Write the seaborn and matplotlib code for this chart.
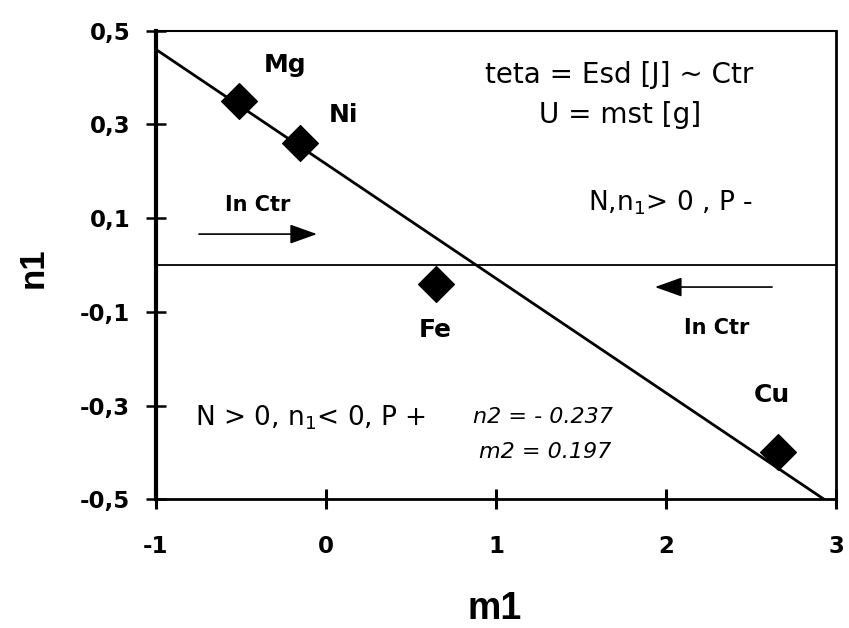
import matplotlib
matplotlib.use("Agg")
import matplotlib.pyplot as plt
import seaborn as sns
import pandas as pd

# Metal data points (m1, n1)
metals = ["Mg", "Ni", "Fe", "Cu"]
m1_values = [-0.51, -0.15, 0.65, 2.66]
n1_values = [0.35, 0.26, -0.04, -0.40]

# Straight trend line, end points (m1, n1)
trend_m1 = [-1.0, 2.93]
trend_n1 = [0.46, -0.50]

# Axis ticks and their comma-decimal labels
x_ticks = [-1, 0, 1, 2, 3]
x_tick_labels = ["-1", "0", "1", "2", "3"]
y_ticks = [0.5, 0.3, 0.1, -0.1, -0.3, -0.5]
y_tick_labels = ["0,5", "0,3", "0,1", "-0,1", "-0,3", "-0,5"]

# Annotation texts
header_lines = ["teta = Esd [J] ~ Ctr", "U = mst [g]"]
region_upper = r"N,n$_1$> 0 , P -"
region_lower = r"N > 0, n$_1$< 0, P +"
fit_lines = ["n2 = - 0.237", "m2 = 0.197"]
arrow_text = "In Ctr"

df = pd.DataFrame({"metal": metals, "m1": m1_values, "n1": n1_values})
trend = pd.DataFrame({"m1": trend_m1, "n1": trend_n1})

sns.set_theme(style="white")
plt.rcParams["font.family"] = ["DejaVu Sans"]
plt.rcParams["mathtext.fontset"] = "dejavusans"
plt.rcParams["text.color"] = "black"
plt.rcParams["axes.labelcolor"] = "black"
plt.rcParams["xtick.color"] = "black"
plt.rcParams["ytick.color"] = "black"

fig = plt.figure(figsize=(8.49, 6.28), dpi=100)
ax = fig.add_axes([0.1837, 0.2049, 0.9847 - 0.1837, 0.9511 - 0.2049])

# zero reference line
ax.axhline(0, color="black", lw=1.3, zorder=1)

# trend line
sns.lineplot(data=trend, x="m1", y="n1", ax=ax, color="black", lw=2.0,
             zorder=2)

sns.scatterplot(data=df, x="m1", y="n1", ax=ax, marker="D", s=330,
                color="black", edgecolor="black", linewidth=1, zorder=3,
                legend=False)

ax.set_xlim(-1, 3)
ax.set_ylim(-0.5, 0.5)
ax.set_xticks(x_ticks)
ax.set_xticklabels(x_tick_labels, fontsize=16.5, fontweight="bold")
ax.set_yticks(y_ticks)
ax.set_yticklabels(y_tick_labels, fontsize=16.5, fontweight="bold")
ax.tick_params(axis="x", bottom=True, direction="inout", length=15,
               width=2.2, pad=18, colors="black")
ax.tick_params(axis="y", left=True, direction="inout", length=15,
               width=1.8, pad=11, colors="black")

for side, lw in {"left": 3.0, "bottom": 2.0, "top": 1.5, "right": 2.0}.items():
    ax.spines[side].set_visible(True)
    ax.spines[side].set_color("black")
    ax.spines[side].set_linewidth(lw)

ax.set_xlabel("m1", fontsize=27, fontweight="bold", family="Liberation Sans",
              color="black")
ax.set_ylabel("n1", fontsize=25, fontweight="bold", family="Liberation Sans",
              color="black")
ax.xaxis.label.set_va("center")
ax.yaxis.label.set_va("center")
ax.xaxis.set_label_coords(0.4985, -0.234)
ax.yaxis.set_label_coords(-0.181, 0.494)

# element labels
label_pos = {"Mg": (-0.24, 0.427), "Ni": (0.106, 0.320),
             "Fe": (0.641, -0.139), "Cu": (2.624, -0.277)}
for name in metals:
    lx, ly = label_pos[name]
    ax.text(lx, ly, name, fontsize=18, fontweight="bold", color="black",
            ha="center", va="center")

ax.text(1.724, 0.405, header_lines[0], fontsize=20, color="black",
        ha="center", va="center")
ax.text(1.729, 0.320, header_lines[1], fontsize=20, color="black",
        ha="center", va="center")
ax.text(2.024, 0.132, region_upper, fontsize=19, color="black",
        ha="center", va="center")
ax.text(-0.771, -0.326, region_lower, fontsize=19, color="black",
        ha="left", va="center")
ax.text(1.276, -0.324, fit_lines[0], fontsize=16, style="italic",
        color="black", ha="center", va="center")
ax.text(1.288, -0.399, fit_lines[1], fontsize=16, style="italic",
        color="black", ha="center", va="center")

# direction arrows with captions
arrow_style = dict(arrowstyle="-|>,head_length=1.4,head_width=0.5",
                   color="black", lw=1.2, shrinkA=0, shrinkB=0)
ax.text(-0.40, 0.128, arrow_text, fontsize=15, fontweight="bold",
        color="black", ha="center", va="center")
ax.annotate("", xy=(-0.053, 0.066), xytext=(-0.747, 0.066),
            arrowprops=arrow_style)
ax.text(2.30, -0.134, arrow_text, fontsize=15, fontweight="bold",
        color="black", ha="center", va="center")
ax.annotate("", xy=(1.935, -0.047), xytext=(2.624, -0.047),
            arrowprops=arrow_style)

fig.savefig("out.png", dpi=100, facecolor="white")
